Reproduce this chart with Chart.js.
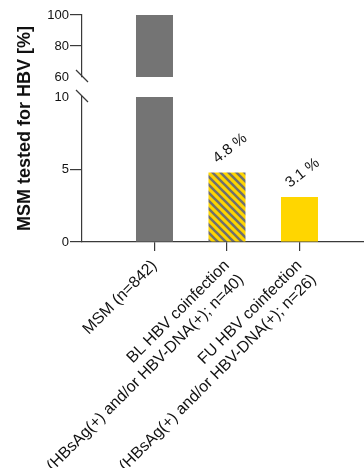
<!DOCTYPE html>
<html><head><meta charset="utf-8">
<script src="https://cdn.jsdelivr.net/npm/chart.js@4"></script>
<style>html,body{margin:0;padding:0;background:#fff}#wrap{width:364px;height:468px;position:relative}</style>
</head><body><div id="wrap"><canvas id="c" width="364" height="468"></canvas></div>
<script>
// ---- data ----
const categories = [
  ['MSM (n=842)'],
  ['BL HBV coinfection', '(HBsAg(+) and/or HBV-DNA(+); n=40)'],
  ['FU HBV coinfection', '(HBsAg(+) and/or HBV-DNA(+); n=26)']
];
const positions = [1, 2, 3];
const values = [100, 4.8, 3.1];
const valueLabels = ['', '4.8 %', '3.1 %'];
const lowerTicks = [0, 5, 10];
const upperTicks = [60, 80, 100];
const yTitle = 'MSM tested for HBV [%]';

// ---- styles ----
const FONT = "'Liberation Sans', Arial, Helvetica, sans-serif";
const AXIS = '#3a3a3a';
const TXT = '#111111';
const GREY = '#747474';
const YELLOW = '#FFD600';
function hatch() {
  const c = document.createElement('canvas'); c.width = 8; c.height = 8;
  const g = c.getContext('2d');
  g.fillStyle = YELLOW; g.fillRect(0, 0, 8, 8);
  g.strokeStyle = '#707070'; g.lineWidth = 2.6;
  g.beginPath();
  g.moveTo(-2, -2); g.lineTo(10, 10);
  g.moveTo(-2, 6); g.lineTo(2, 10);
  g.moveTo(6, -2); g.lineTo(10, 2);
  g.stroke();
  return g.createPattern(c, 'repeat');
}
const fills = [GREY, hatch(), YELLOW];

Chart.defaults.font.family = FONT;
Chart.defaults.color = TXT;

const points = positions.map((p, i) => ({ x: p, y: values[i] }));
const barCommon = { backgroundColor: fills, borderWidth: 0, grouped: false, maxBarThickness: 37, clip: 0 };

const decor = {
  id: 'decor',
  afterDraw(chart) {
    const ctx = chart.ctx;
    const yb = chart.scales.y, yt = chart.scales.yTop;
    const ax = yb.right;
    ctx.save();
    ctx.strokeStyle = AXIS; ctx.lineWidth = 1.2;
    [yt.bottom - 1, yb.top - 1].forEach(yy => {
      ctx.beginPath(); ctx.moveTo(ax - 6, yy - 6); ctx.lineTo(ax + 6, yy + 6); ctx.stroke();
    });
    ctx.translate(25, (yt.top + yb.bottom) / 2);
    ctx.rotate(-Math.PI / 2);
    ctx.font = 'bold 18px ' + FONT;
    ctx.fillStyle = TXT; ctx.textAlign = 'center'; ctx.textBaseline = 'middle';
    ctx.fillText(yTitle, 0, 0);
    ctx.restore();
    const meta = chart.getDatasetMeta(0);
    meta.data.forEach((bar, i) => {
      if (!valueLabels[i]) return;
      ctx.save();
      ctx.translate(bar.x + 3, bar.y - 24);
      ctx.rotate(-38 * Math.PI / 180);
      ctx.font = '15px ' + FONT;
      ctx.fillStyle = TXT; ctx.textAlign = 'center'; ctx.textBaseline = 'middle';
      ctx.fillText(valueLabels[i], 0, 0);
      ctx.restore();
    });
  }
};

const hideTick = (v) => (c) => (c.tick && c.tick.value === v) ? 'rgba(0,0,0,0)' : AXIS;

new Chart(document.getElementById('c'), {
  type: 'bar',
  data: {
    datasets: [
      Object.assign({ data: points, xAxisID: 'x', yAxisID: 'y' }, barCommon),
      Object.assign({ data: points, xAxisID: 'x', yAxisID: 'yTop' }, barCommon)
    ]
  },
  options: {
    responsive: false,
    devicePixelRatio: 1,
    animation: false,
    layout: { padding: { top: 15, left: 0, right: 0, bottom: 0 } },
    plugins: { legend: { display: false }, tooltip: { enabled: false } },
    scales: {
      x: {
        type: 'linear', position: 'bottom', min: 0, max: 3.89, offset: false,
        afterBuildTicks: s => { s.ticks = positions.map(v => ({ value: v })); },
        afterFit: s => { s.height = 226; },
        ticks: {
          autoSkip: false, minRotation: 45, maxRotation: 45, padding: 5, color: TXT,
          font: { size: 16, lineHeight: 1.25 },
          callback: v => { const i = positions.indexOf(v); return i >= 0 ? categories[i] : ''; }
        },
        grid: { offset: false, drawOnChartArea: false, tickLength: 9, color: AXIS, lineWidth: 1.2 },
        border: { color: AXIS, width: 1.2 }
      },
      y: {
        type: 'linear', position: 'left', stack: 'v', stackWeight: 145, min: 0, max: 10,
        afterBuildTicks: s => { s.ticks = lowerTicks.map(v => ({ value: v })); },
        afterFit: s => { s.width = 82; },
        ticks: { padding: 1, color: TXT, font: { size: 13 } },
        grid: { drawOnChartArea: false, tickLength: 12, tickColor: hideTick(10), color: AXIS, lineWidth: 1.2 },
        border: { color: AXIS, width: 1.2 }
      },
      yGap: {
        type: 'linear', position: 'left', stack: 'v', stackWeight: 20, min: 0, max: 1,
        afterFit: s => { s.width = 82; },
        ticks: { display: false },
        grid: { display: false },
        border: { display: false }
      },
      yTop: {
        type: 'linear', position: 'left', stack: 'v', stackWeight: 62, min: 60, max: 100,
        afterBuildTicks: s => { s.ticks = upperTicks.map(v => ({ value: v })); },
        afterFit: s => { s.width = 82; },
        ticks: { padding: 1, color: TXT, font: { size: 13 } },
        grid: { drawOnChartArea: false, tickLength: 12, tickColor: hideTick(60), color: AXIS, lineWidth: 1.2 },
        border: { color: AXIS, width: 1.2 }
      }
    }
  },
  plugins: [decor]
});
</script></body></html>
